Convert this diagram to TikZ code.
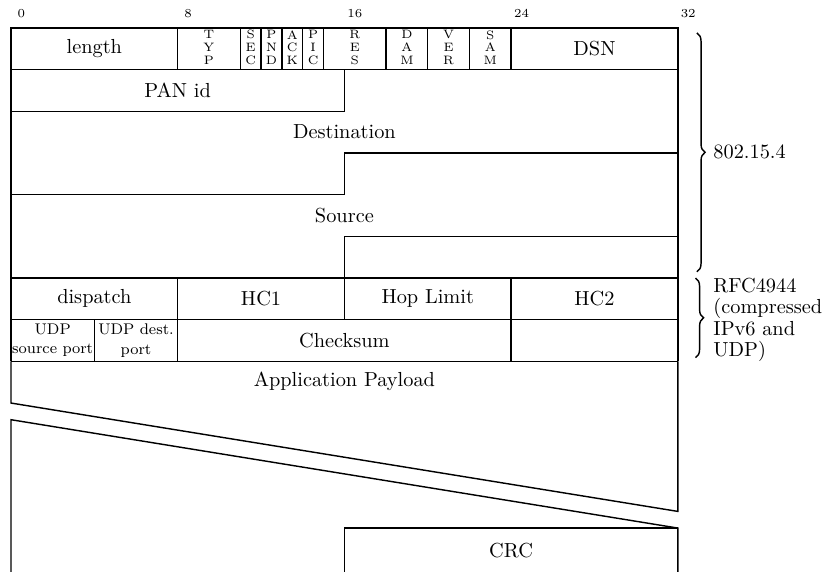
\documentclass[tikz,border=0pt]{standalone}
\usetikzlibrary{decorations.pathreplacing}

\begin{document}
\begin{tikzpicture}[x=0.36cm,y=-0.72cm,line width=0.7pt,
  bitno/.style={font=\fontsize{6}{7}\selectfont,anchor=base,inner sep=0pt},
  flagtxt/.style={font=\fontsize{6}{6.3}\selectfont,align=center,inner sep=0pt},
  udptxt/.style={font=\fontsize{7.6}{9.5}\selectfont,align=center,inner sep=0pt},
  sidebrace/.style={decorate,decoration={brace,amplitude=4pt}},
  sidetxt/.style={anchor=west,align=left,font=\fontsize{10}{10.5}\selectfont}]
\useasboundingbox (-0.528,-0.671) rectangle (39.16,13.05);
% bit numbers
\foreach \b in {0,8,16,24,32}
  \node[bitno] (bit\b) at (\b+0.5,-0.24) {\b};
% 802.15.4 header
\draw (0,0) rectangle (32,1);
\draw (8,0) -- (8,1);
\node (len) at (4,0.5) {length};
\foreach \s/\e/\t [count=\i] in {8/11/T\\Y\\P,11/12/S\\E\\C,12/13/P\\N\\D,
    13/14/A\\C\\K,14/15/P\\I\\C,15/18/R\\E\\S,18/20/D\\A\\M,20/22/V\\E\\R,22/24/S\\A\\M}{
  \draw (\e,0) -- (\e,1);
  \node[flagtxt] (flag\i) at ({(\s+\e)/2},0.47) {\t};
}
\node (dsn) at (28,0.5) {DSN};
% addresses
\draw (0,1) -- (0,8) (32,1) -- (32,8);
\draw (0,2) -- (16,2) -- (16,1);
\draw (16,3) -- (32,3);
\draw (16,3) -- (16,4) -- (0,4);
\draw (16,5) -- (32,5);
\draw (16,5) -- (16,6);
\node (pan) at (8,1.5) {PAN id};
\node (dst) at (16,2.5) {Destination};
\node (src) at (16,4.5) {Source};
% compressed IPv6 and UDP
\draw (0,6) -- (32,6);
\draw (0,7) -- (32,7);
\draw (0,8) -- (32,8);
\draw (8,6) -- (8,8) (16,6) -- (16,7) (24,6) -- (24,8) (4,7) -- (4,8);
\node (disp) at (4,6.5) {dispatch};
\node (hc1) at (12,6.5) {HC1};
\node (hop) at (20,6.5) {Hop Limit};
\node (hc2) at (28,6.5) {HC2};
\node[udptxt] (sport) at (2,7.5) {UDP\\source port};
\node[udptxt] (dport) at (6,7.5) {UDP dest.\\port};
\node (csum) at (16,7.5) {Checksum};
% payload, cut
\draw (0,8) -- (0,9) -- (32,11.6) -- (32,8);
\draw (0,13.05) -- (0,9.4) -- (32,12) -- (32,13.05);
\draw (16,13.05) -- (16,12) -- (32,12);
\node (app) at (16,8.48) {Application Payload};
\node (crc) at (24,12.55) {CRC};
% braces
\draw[sidebrace] (32.92,0.12) -- (32.92,5.85);
\node[sidetxt] (mac) at (33.35,2.98) {802.15.4};
\draw[sidebrace] (32.85,6.0) -- (32.85,7.91);
\node[sidetxt] (rfc) at (33.35,7.0) {RFC4944\\(compressed\\IPv6 and\\UDP)};
\end{tikzpicture}
\end{document}
